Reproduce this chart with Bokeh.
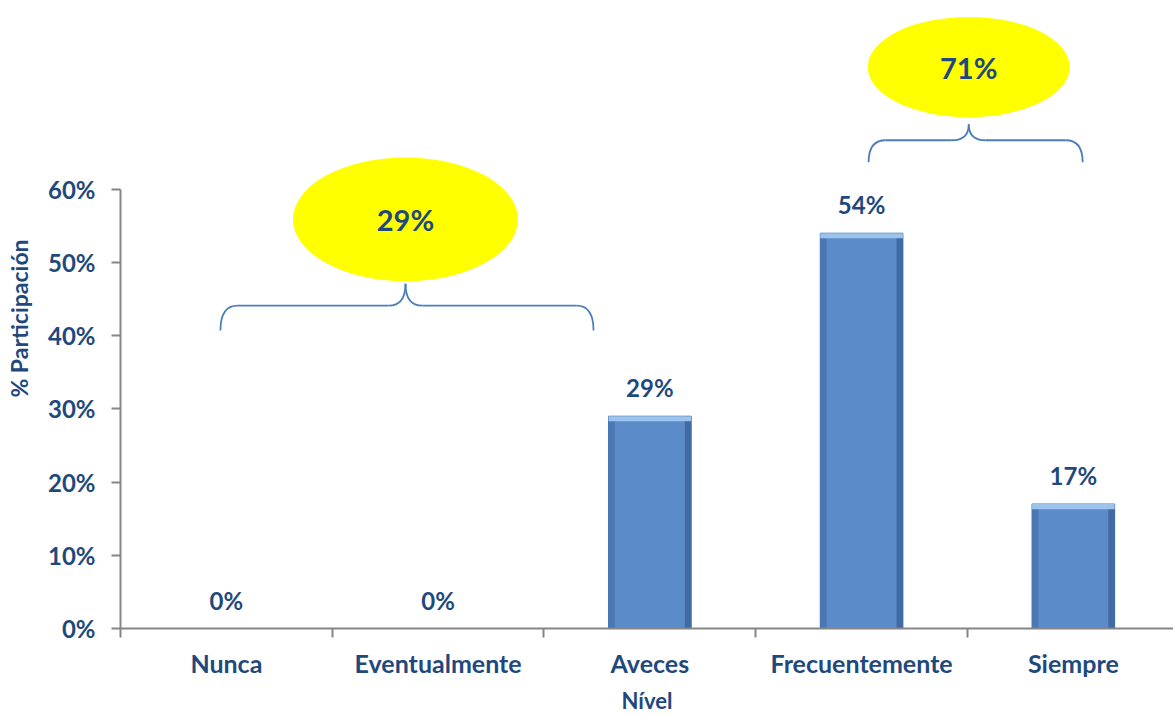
from bokeh.plotting import figure
from bokeh.models import Range1d, FixedTicker, ColumnDataSource, CustomJSTickFormatter
from bokeh.core.properties import value
from bokeh.embed import file_html
from bokeh.resources import INLINE

categories = ["Nunca", "Eventualmente", "Aveces", "Frecuentemente", "Siempre"]
values = [0, 0, 29, 54, 17]
y_ticks = [0, 10, 20, 30, 40, 50, 60]
group_labels = ["29%", "71%"]

FONT = "Lato"
TXT = "#1F497D"
AX = "#868686"

n = len(categories)
centers = [i + 0.5 for i in range(n)]
bounds = [float(i) for i in range(n)]

p = figure(frame_width=1053, frame_height=620, output_backend="svg", toolbar_location=None,
           x_range=Range1d(0, 4.973), y_range=Range1d(0, 84.7),
           min_border_left=120, min_border_right=0, min_border_top=8, min_border_bottom=84)
p.outline_line_color = None
p.grid.grid_line_color = None
p.background_fill_color = "white"
p.border_fill_color = "white"

# X axis
xa = p.xaxis[0]
xa.ticker = FixedTicker(ticks=centers, minor_ticks=bounds)
xa.major_label_overrides = {c: lab for c, lab in zip(centers, categories)}
xa.major_tick_line_color = None
xa.major_tick_out = 0
xa.major_tick_in = 0
xa.minor_tick_out = 9
xa.minor_tick_in = 0
xa.minor_tick_line_color = AX
xa.minor_tick_line_width = 2
xa.axis_line_color = AX
xa.axis_line_width = 2
xa.major_label_standoff = 10
xa.major_label_text_font = FONT
xa.major_label_text_font_style = "bold"
xa.major_label_text_font_size = "25px"
xa.major_label_text_color = TXT
xa.axis_label = "Nível"
xa.axis_label_text_font = FONT
xa.axis_label_text_font_style = "bold"
xa.axis_label_text_font_size = "22px"
xa.axis_label_text_color = TXT
xa.axis_label_standoff = 6

# Y axis
ya = p.yaxis[0]
ya.ticker = FixedTicker(ticks=y_ticks, minor_ticks=[])
ya.bounds = (0, 60)
ya.formatter = CustomJSTickFormatter(code="return tick.toFixed(0) + '%';")
ya.major_tick_out = 9
ya.major_tick_in = 0
ya.major_tick_line_color = AX
ya.major_tick_line_width = 2
ya.minor_tick_line_color = None
ya.axis_line_color = AX
ya.axis_line_width = 2
ya.major_label_standoff = 16
ya.major_label_text_font = FONT
ya.major_label_text_font_style = "bold"
ya.major_label_text_font_size = "24px"
ya.major_label_text_color = TXT
ya.axis_label = "% Participación"
ya.axis_label_text_font = FONT
ya.axis_label_text_font_style = "bold"
ya.axis_label_text_font_size = "23px"
ya.axis_label_text_color = TXT
ya.axis_label_standoff = 12

# Bars with a bevel look
bw = 0.39
edge = 0.03
src = ColumnDataSource(dict(x=centers, top=values,
                            xl=[c - bw / 2 + edge / 2 for c in centers],
                            xr=[c + bw / 2 - edge / 2 for c in centers],
                            hl=[max(v - 0.7, 0) if v > 0 else 0 for v in values],
                            lab=[f"{v}%" for v in values]))
p.vbar(x="x", top="top", bottom=0, width=bw, source=src, fill_color="#5B8BC8", line_color="#3E6CA6", line_width=1)
p.vbar(x="xl", top="top", bottom=0, width=edge, source=src, fill_color="#4A78B5", line_color=None)
p.vbar(x="xr", top="top", bottom=0, width=edge, source=src, fill_color="#3F6AA3", line_color=None)
p.vbar(x="x", top="top", bottom="hl", width=bw, source=src, fill_color="#9CC2EE", line_color=None)

p.text(x="x", y="top", text="lab", source=src, y_offset=-14, text_align="center", text_baseline="bottom",
       text_font=value(FONT), text_font_style="bold", text_font_size="24px", text_color=TXT)

# Group annotations: braces + yellow ellipses
brace_geo = [
    dict(x0=0.472, x1=2.234, xc=1.346, y_end=40.7, y_line=44.1, y_tip=47.1, ey=55.9, ew=1.063, eh=16.9),
    dict(x0=3.533, x1=4.544, xc=4.006, y_end=63.7, y_line=66.7, y_tip=68.9, ey=76.7, ew=0.954, eh=13.7),
]
bc = "#4A7EBB"
for g, lab in zip(brace_geo, group_labels):
    r = 0.08
    yl, ye, yt, xc = g["y_line"], g["y_end"], g["y_tip"], g["xc"]
    p.quadratic(x0=[g["x0"]], y0=[ye], x1=[g["x0"] + r], y1=[yl], cx=[g["x0"]], cy=[yl], line_color=bc, line_width=1.8)
    p.segment(x0=[g["x0"] + r], y0=[yl], x1=[xc - r], y1=[yl], line_color=bc, line_width=1.8)
    p.quadratic(x0=[xc - r], y0=[yl], x1=[xc], y1=[yt], cx=[xc], cy=[yl], line_color=bc, line_width=1.8)
    p.quadratic(x0=[xc + r], y0=[yl], x1=[xc], y1=[yt], cx=[xc], cy=[yl], line_color=bc, line_width=1.8)
    p.segment(x0=[xc + r], y0=[yl], x1=[g["x1"] - r], y1=[yl], line_color=bc, line_width=1.8)
    p.quadratic(x0=[g["x1"]], y0=[ye], x1=[g["x1"] - r], y1=[yl], cx=[g["x1"]], cy=[yl], line_color=bc, line_width=1.8)
    p.ellipse(x=[xc], y=[g["ey"]], width=[g["ew"]], height=[g["eh"]], fill_color="#FFFF00", line_color=None)
    p.text(x=[xc], y=[g["ey"]], text=[lab], text_align="center", text_baseline="middle",
           text_font=value(FONT), text_font_style="bold", text_font_size="29px", text_color=TXT)

open("out.html", "w").write(file_html(p, INLINE))
